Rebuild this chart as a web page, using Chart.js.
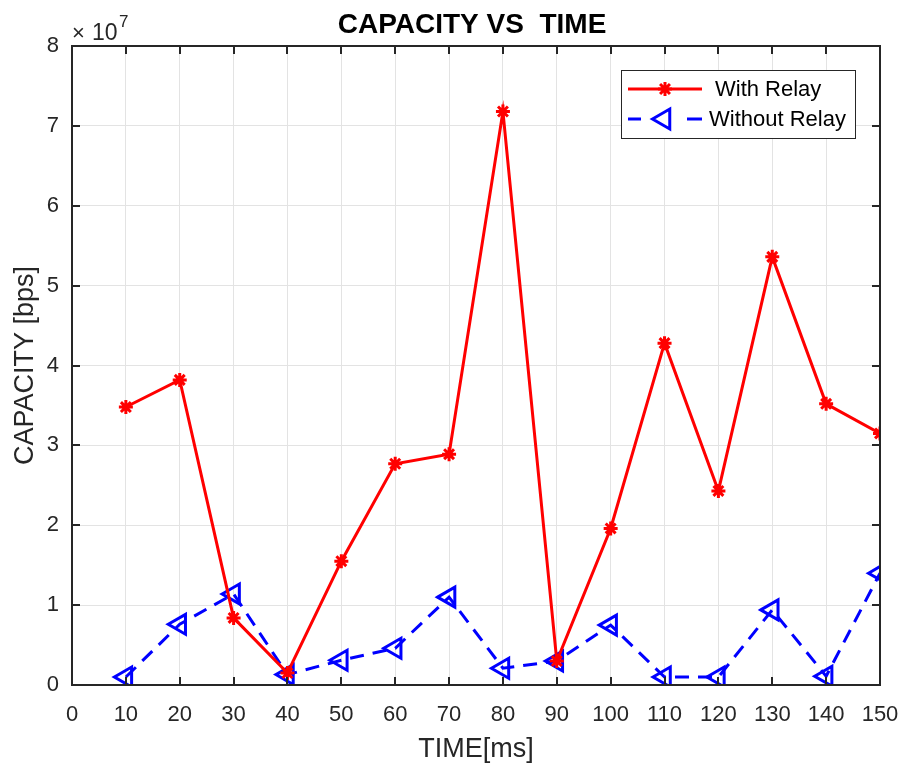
<!DOCTYPE html>
<html><head><meta charset="utf-8">
<script src="https://cdn.jsdelivr.net/npm/chart.js@4/dist/chart.umd.min.js"></script>
<style>html,body{margin:0;padding:0;background:#fff}#wrap{width:902px;height:765px;position:relative}</style>
</head><body><div id="wrap"><canvas id="c" width="902" height="765"></canvas></div>
<script>
const times = [10, 20, 30, 40, 50, 60, 70, 80, 90, 100, 110, 120, 130, 140, 150];
const withRelay = [3.48e7, 3.82e7, 0.84e7, 0.15e7, 1.55e7, 2.77e7, 2.89e7, 7.18e7, 0.30e7, 1.96e7, 4.28e7, 2.43e7, 5.36e7, 3.52e7, 3.15e7];
const withoutRelay = [0.10e7, 0.76e7, 1.14e7, 0.13e7, 0.31e7, 0.46e7, 1.10e7, 0.21e7, 0.30e7, 0.75e7, 0.10e7, 0.10e7, 0.94e7, 0.11e7, 1.40e7];
const xTicks = [0, 10, 20, 30, 40, 50, 60, 70, 80, 90, 100, 110, 120, 130, 140, 150];
const yTicks = [0, 1, 2, 3, 4, 5, 6, 7, 8];
const seriesNames = ['With Relay', 'Without Relay'];
const titleText = 'CAPACITY VS  TIME';
const xLabel = 'TIME[ms]';
const yLabel = 'CAPACITY [bps]';
const exponent = 7;

const FONT = '"Liberation Sans", Arial, Helvetica, sans-serif';
const TXT = '#262626';

const toPts = (arr) => arr.map((v, i) => ({ x: times[i], y: v }));

const framePlugin = {
  id: 'frame',
  afterDraw(chart) {
    const ctx = chart.ctx;
    const a = chart.chartArea;
    const xs = chart.scales.x, ys = chart.scales.y;
    ctx.save();
    ctx.strokeStyle = TXT;
    ctx.lineWidth = 2;
    ctx.strokeRect(a.left, a.top, a.right - a.left, a.bottom - a.top);
    const tl = 8;
    xTicks.forEach(t => {
      const px = Math.round(xs.getPixelForValue(t));
      ctx.beginPath();
      ctx.moveTo(px, a.bottom); ctx.lineTo(px, a.bottom - tl);
      ctx.moveTo(px, a.top); ctx.lineTo(px, a.top + tl);
      ctx.stroke();
    });
    yTicks.forEach(t => {
      const py = Math.round(ys.getPixelForValue(t * Math.pow(10, exponent)));
      ctx.beginPath();
      ctx.moveTo(a.left, py); ctx.lineTo(a.left + tl, py);
      ctx.moveTo(a.right, py); ctx.lineTo(a.right - tl, py);
      ctx.stroke();
    });
    // title
    ctx.fillStyle = '#000';
    ctx.font = 'bold 28px ' + FONT;
    ctx.textAlign = 'center';
    ctx.textBaseline = 'alphabetic';
    ctx.fillText(titleText, 472, 33);
    // exponent
    ctx.fillStyle = TXT;
    ctx.textAlign = 'left';
    ctx.font = '22px ' + FONT;
    ctx.fillText('\u00d7', 72, 40);
    ctx.font = '23px ' + FONT;
    ctx.fillText('10', 92, 40);
    ctx.font = '17px ' + FONT;
    ctx.fillText(String(exponent), 119, 27);
    // legend
    const lx = 621, ly = 70, lw = 234, lh = 68;
    ctx.fillStyle = '#fff';
    ctx.fillRect(lx, ly, lw, lh);
    ctx.strokeStyle = '#262626';
    ctx.lineWidth = 1;
    ctx.strokeRect(lx + 0.5, ly + 0.5, lw, lh);
    const ds = chart.data.datasets;
    const rows = [89, 119];
    rows.forEach((ry, i) => {
      const d = ds[i];
      ctx.strokeStyle = d.borderColor;
      ctx.lineWidth = 3;
      ctx.beginPath();
      if (i === 0) { ctx.moveTo(628, ry); ctx.lineTo(702, ry); }
      else { ctx.moveTo(628, ry); ctx.lineTo(641, ry); ctx.moveTo(687, ry); ctx.lineTo(702, ry); }
      ctx.stroke();
      ctx.fillStyle = d.pointBackgroundColor;
      ctx.strokeStyle = d.pointBorderColor;
      ctx.lineWidth = d.pointBorderWidth;
      Chart.helpers.drawPoint(ctx, {
        pointStyle: d.pointStyle, radius: d.pointRadius, rotation: d.pointRotation || 0,
        borderWidth: d.pointBorderWidth
      }, i === 0 ? 665 : 664, ry);
      ctx.fillStyle = '#000';
      ctx.font = '22px ' + FONT;
      ctx.textBaseline = 'middle';
      ctx.fillText(seriesNames[i], i === 0 ? 715 : 709, ry + 1);
    });
    ctx.restore();
  }
};

new Chart(document.getElementById('c'), {
  type: 'line',
  data: {
    datasets: [
      {
        label: seriesNames[0], data: toPts(withRelay),
        borderColor: '#ff0000', backgroundColor: '#ff0000', borderWidth: 3,
        pointStyle: 'star', pointRadius: 7, pointBorderWidth: 3,
        pointBackgroundColor: '#ff0000', pointBorderColor: '#ff0000', tension: 0
      },
      {
        label: seriesNames[1], data: toPts(withoutRelay),
        borderColor: '#0000ff', backgroundColor: 'rgba(0,0,0,0)', borderWidth: 3,
        borderDash: [14, 9],
        pointStyle: 'triangle', pointRotation: -90, pointRadius: 11.5, pointBorderWidth: 3,
        pointBackgroundColor: 'rgba(0,0,0,0)', pointBorderColor: '#0000ff', tension: 0
      }
    ]
  },
  options: {
    responsive: false,
    animation: false,
    devicePixelRatio: 1,
    layout: { padding: { top: 46, right: 22, left: 0, bottom: 0 } },
    plugins: { legend: { display: false }, title: { display: false }, tooltip: { enabled: false } },
    scales: {
      x: {
        type: 'linear', min: 0, max: 150,
        afterBuildTicks: (s) => { s.ticks = xTicks.map(v => ({ value: v })); },
        afterFit: (s) => { s.height = 80; s.paddingLeft = 0; s.paddingRight = 0; },
        grid: { color: '#e3e3e3', lineWidth: 1, drawTicks: false },
        border: { display: false },
        ticks: { color: TXT, font: { family: FONT, size: 22 }, padding: 17, maxRotation: 0, autoSkip: false },
        title: { display: true, text: xLabel, color: TXT, font: { family: FONT, size: 27 }, padding: { top: 0, bottom: -1 } }
      },
      y: {
        type: 'linear', min: 0, max: 8e7,
        afterBuildTicks: (s) => { s.ticks = yTicks.map(v => ({ value: v * Math.pow(10, exponent) })); },
        afterFit: (s) => { s.width = 72; s.paddingTop = 0; s.paddingBottom = 0; },
        grid: { color: '#e3e3e3', lineWidth: 1, drawTicks: false },
        border: { display: false },
        ticks: { color: TXT, font: { family: FONT, size: 22 }, padding: 13,
          callback: (v) => String(Math.round(v / Math.pow(10, exponent))) },
        title: { display: true, text: yLabel, color: TXT, font: { family: FONT, size: 27 }, padding: { top: 9, bottom: 0 } }
      }
    }
  },
  plugins: [framePlugin]
});
</script>
</body></html>
